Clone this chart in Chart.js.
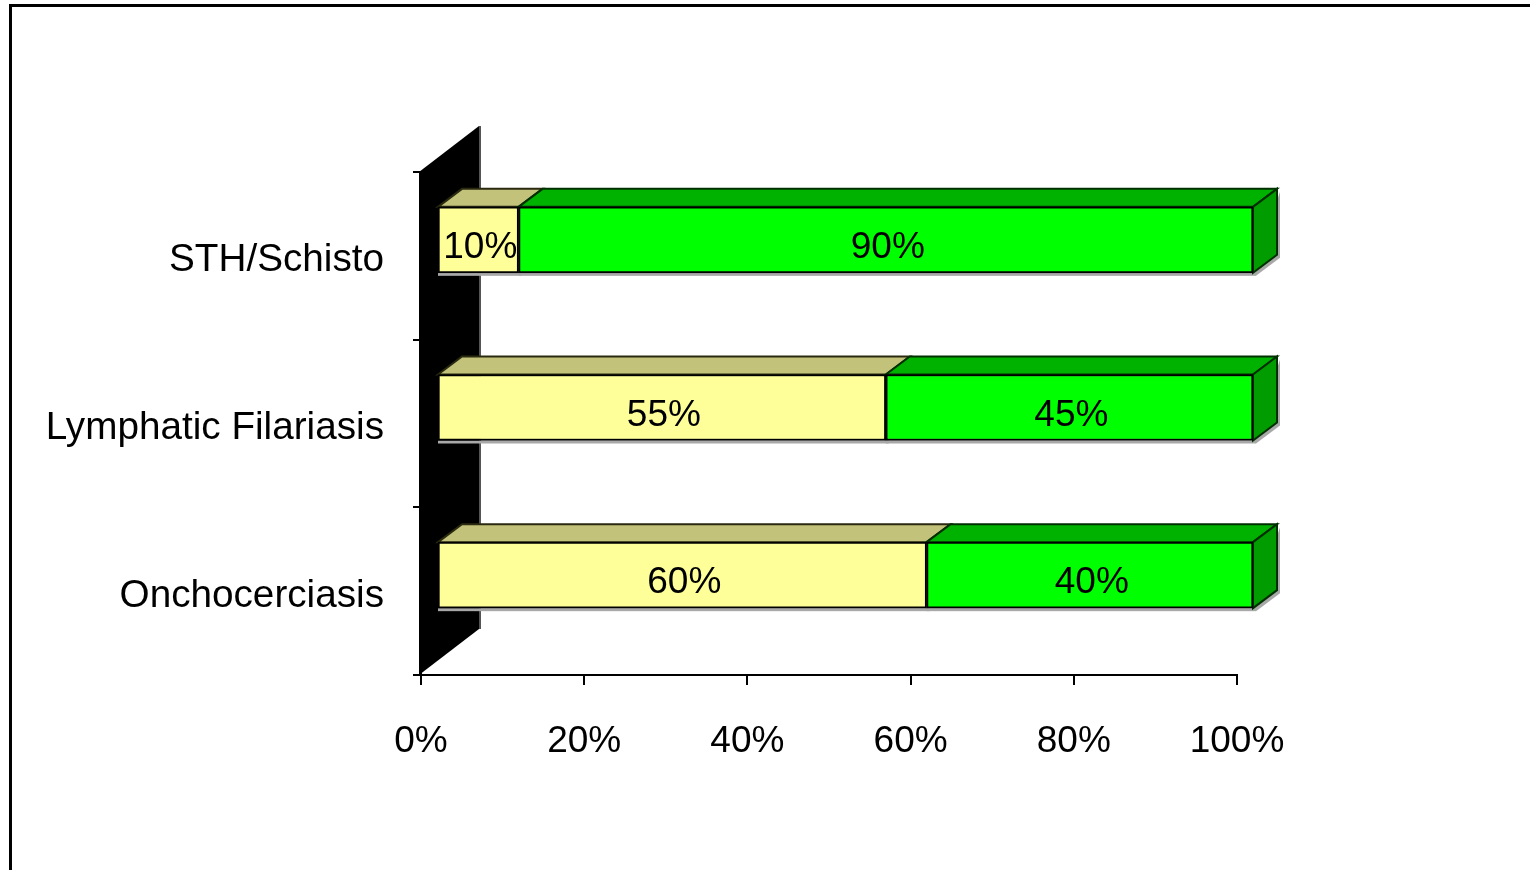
<!DOCTYPE html>
<html><head><meta charset="utf-8">
<script src="https://cdn.jsdelivr.net/npm/chart.js@4.4.1/dist/chart.umd.min.js"></script>
<style>html,body{margin:0;padding:0;background:#fff;overflow:hidden;} canvas{display:block;}</style>
</head><body>
<canvas id="c" width="1530" height="870"></canvas>
<script>
// ---- data ----
const categories = ['STH/Schisto', 'Lymphatic Filariasis', 'Onchocerciasis'];
const seriesYellow = [10, 55, 60];
const seriesGreen = [90, 45, 40];
const xTickValues = [0, 20, 40, 60, 80, 100];

// ---- 3D look ----
const FONT = "'Liberation Sans', Arial, sans-serif";
const DX = 24, DY = -18;          // bar depth
const SHIFT_X = 16, SHIFT_Y = -16; // bar front plane offset
const WALL_DX = 58, WALL_DY = -46; // wall depth

const threeD = {
  id: 'threeD',
  beforeDraw(chart) {
    const ctx = chart.ctx;
    ctx.save();
    ctx.fillStyle = '#fff';
    ctx.fillRect(0, 0, chart.width, chart.height);
    ctx.fillStyle = '#000';
    ctx.fillRect(9, 4, chart.width - 9, 3);
    ctx.fillRect(9, 4, 3, chart.height - 4);
    ctx.restore();
  },
  beforeDatasetsDraw(chart) {
    const ctx = chart.ctx, a = chart.chartArea;
    ctx.save();
    ctx.fillStyle = '#000';
    ctx.beginPath();
    ctx.moveTo(a.left - 2, a.top);
    ctx.lineTo(a.left + WALL_DX, a.top + WALL_DY);
    ctx.lineTo(a.left + WALL_DX, a.bottom + WALL_DY);
    ctx.lineTo(a.left - 2, a.bottom);
    ctx.closePath();
    ctx.fill();
    ctx.strokeStyle = '#555';
    ctx.lineWidth = 2;
    ctx.beginPath();
    ctx.moveTo(a.left + WALL_DX + 1, a.top + WALL_DY);
    ctx.lineTo(a.left + WALL_DX + 1, a.bottom + WALL_DY);
    ctx.stroke();
    ctx.restore();

    ctx.save();
    ctx.translate(SHIFT_X, SHIFT_Y);
    const n = chart.data.datasets.length;
    chart.data.datasets.forEach((ds, i) => {
      const meta = chart.getDatasetMeta(i);
      meta.data.forEach(bar => {
        const p = bar.getProps(['x', 'y', 'base', 'height'], true);
        const t = p.y - p.height / 2, b = p.y + p.height / 2;
        const l = Math.min(p.x, p.base), r = Math.max(p.x, p.base);
        // shadow under front face
        ctx.fillStyle = '#a8a8a8';
        ctx.fillRect(l, b, r - l + 3, 3);
        // top face
        ctx.fillStyle = ds.topColor;
        ctx.beginPath();
        ctx.moveTo(l, t); ctx.lineTo(l + DX, t + DY); ctx.lineTo(r + DX, t + DY); ctx.lineTo(r, t);
        ctx.closePath(); ctx.fill();
        ctx.strokeStyle = ds.edgeColor; ctx.lineWidth = 2; ctx.stroke();
        if (i === n - 1) {
          // shadow of side face
          ctx.fillStyle = '#a8a8a8';
          ctx.beginPath();
          ctx.moveTo(r + DX + 3, t + DY + 3); ctx.lineTo(r + DX + 3, b + DY + 3); ctx.lineTo(r + 3, b + 3); ctx.lineTo(r, b);
          ctx.closePath(); ctx.fill();
          ctx.fillStyle = ds.sideColor;
          ctx.beginPath();
          ctx.moveTo(r, t); ctx.lineTo(r + DX, t + DY); ctx.lineTo(r + DX, b + DY); ctx.lineTo(r, b);
          ctx.closePath(); ctx.fill();
          ctx.strokeStyle = ds.edgeColor; ctx.stroke();
        }
      });
    });
  },
  afterDatasetsDraw(chart) {
    const ctx = chart.ctx;
    ctx.fillStyle = '#000';
    ctx.font = '37px ' + FONT;
    ctx.textAlign = 'center';
    ctx.textBaseline = 'middle';
    chart.data.datasets.forEach((ds, i) => {
      const meta = chart.getDatasetMeta(i);
      meta.data.forEach((bar, j) => {
        const p = bar.getProps(['x', 'y', 'base'], true);
        ctx.fillText(ds.data[j] + '%', (p.x + p.base) / 2 + 2, p.y + 8);
      });
    });
    ctx.restore();
  }
};

new Chart(document.getElementById('c'), {
  type: 'bar',
  data: {
    labels: categories,
    datasets: [
      { data: seriesYellow, backgroundColor: '#FFFF99', borderColor: '#000', borderWidth: 2, borderSkipped: false,
        topColor: '#C2C27A', sideColor: '#B0B060', edgeColor: '#2a2a10', barThickness: 66, clip: false },
      { data: seriesGreen, backgroundColor: '#00FF00', borderColor: '#000', borderWidth: 2, borderSkipped: false,
        topColor: '#00B200', sideColor: '#009C00', edgeColor: '#003000', barThickness: 66, clip: false }
    ]
  },
  options: {
    indexAxis: 'y',
    responsive: false,
    animation: false,
    devicePixelRatio: 1,
    layout: { padding: { left: 0, right: 293, top: 172, bottom: 95 } },
    plugins: { legend: { display: false }, tooltip: { enabled: false } },
    scales: {
      x: {
        stacked: true, min: 0, max: 100,
        afterBuildTicks: s => { s.ticks = xTickValues.map(v => ({ value: v })); },
        afterFit: s => { s.height = 100; },
        ticks: { callback: v => v + '%', color: '#000', font: { family: FONT, size: 37 }, padding: 35, maxRotation: 0 },
        grid: { drawOnChartArea: false, drawTicks: true, tickLength: 10, color: '#000', lineWidth: 2 },
        border: { display: true, color: '#000', width: 2 }
      },
      y: {
        stacked: true,
        afterFit: s => { s.width = 421; },
        ticks: { color: '#000', font: { family: FONT, size: 38.7 }, padding: 29, labelOffset: 5 },
        grid: { drawOnChartArea: false, drawTicks: true, tickLength: 8, color: '#000', lineWidth: 2 },
        border: { display: true, color: '#000', width: 2 }
      }
    }
  },
  plugins: [threeD]
});
</script>
</body></html>
